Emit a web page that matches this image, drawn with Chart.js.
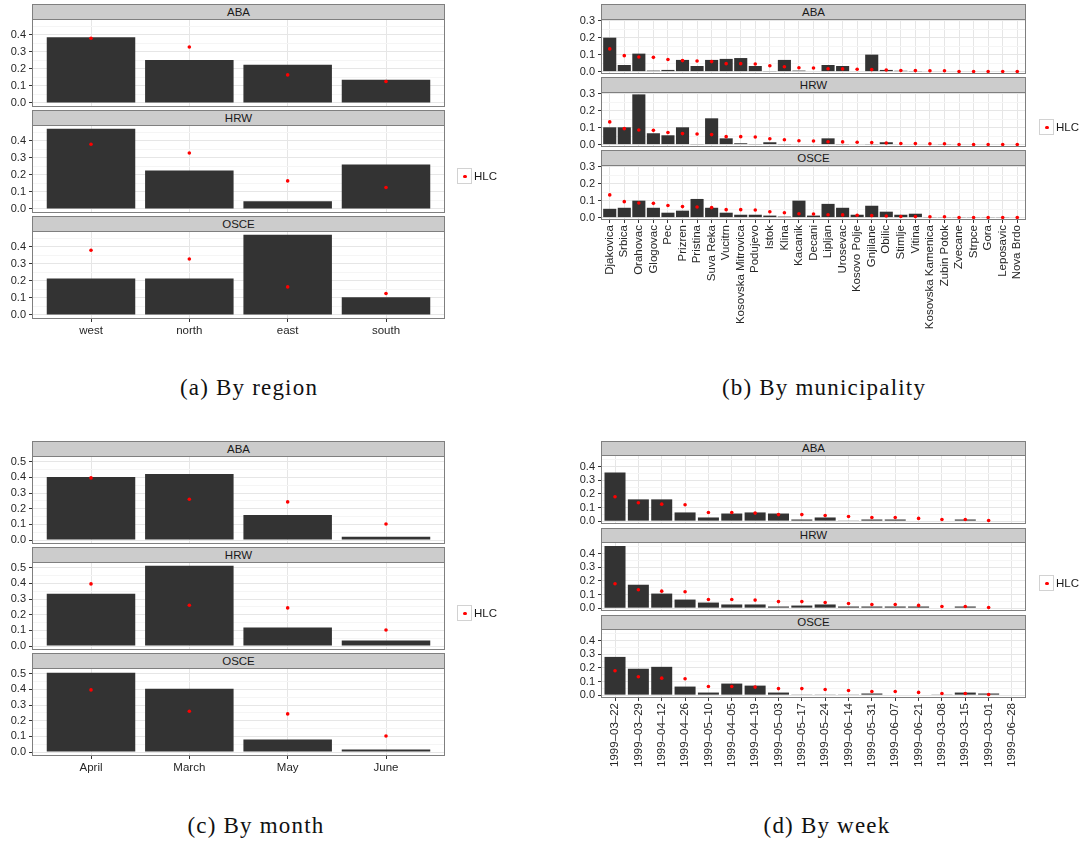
<!DOCTYPE html>
<html>
<head>
<meta charset="utf-8">
<script src="https://cdn.jsdelivr.net/npm/chart.js@4.4.1/dist/chart.umd.min.js"></script>
<style>
  html, body { margin: 0; padding: 0; background: #fff; }
  body { position: relative; width: 1084px; height: 841px; overflow: hidden; font-family: "Liberation Sans", Arial, sans-serif; }
  .strip { position: absolute; box-sizing: border-box; background: #cccccc; border: 1px solid #7f7f7f;
           text-align: center; font-size: 11.5px; color: #1a1a1a; }
  .key { position: absolute; box-sizing: border-box; width: 15px; height: 16px; border: 1px solid #d2d2d2; background: #fff; }
  .key span { position: absolute; left: 5px; top: 5.5px; width: 3.6px; height: 3.6px; border-radius: 50%; background: #ff0000; }
  .ltxt { position: absolute; font-size: 11.5px; color: #1a1a1a; line-height: 16px; }
  .cap { position: absolute; font-family: "Liberation Serif", "DejaVu Serif", serif; font-size: 23px; letter-spacing: 1.2px;
         color: #111; white-space: nowrap; transform: translateX(-50%); line-height: 24px; }
  canvas { position: absolute; }
</style>
</head>
<body>
<script>
// facet rows
const facets = ['ABA', 'HRW', 'OSCE'];

// (a) by region
const regions = ['west', 'north', 'east', 'south'];
const regionHLC = [0.381, 0.329, 0.165, 0.126];
const regionABA = [0.387, 0.253, 0.224, 0.137];
const regionHRW = [0.472, 0.226, 0.045, 0.261];
const regionOSCE = [0.215, 0.215, 0.472, 0.104];
const regionTicks = [0, 0.1, 0.2, 0.3, 0.4];

// (b) by municipality
const municipalities = ['Djakovica', 'Srbica', 'Orahovac', 'Glogovac', 'Pec', 'Prizren', 'Pristina', 'Suva Reka',
  'Vucitrn', 'Kosovska Mitrovica', 'Podujevo', 'Istok', 'Klina', 'Kacanik', 'Decani', 'Lipljan', 'Urosevac',
  'Kosovo Polje', 'Gnjilane', 'Obilic', 'Stimlje', 'Vitina', 'Kosovska Kamenica', 'Zubin Potok', 'Zvecane',
  'Strpce', 'Gora', 'Leposavic', 'Nova Brdo'];
const muniHLC = [0.134, 0.094, 0.086, 0.084, 0.071, 0.065, 0.063, 0.059, 0.047, 0.047, 0.045, 0.035, 0.029, 0.023,
  0.021, 0.017, 0.016, 0.014, 0.012, 0.010, 0.007, 0.006, 0.005, 0.005, 0.001, 0.001, 0.001, 0.001, 0.001];
const muniABA = [0.200, 0.039, 0.106, 0.006, 0.010, 0.069, 0.033, 0.069, 0.075, 0.080, 0.033, 0.002, 0.069, 0.006,
  0, 0.039, 0.033, 0, 0.100, 0.010, 0.005, 0.002, 0, 0, 0.003, 0, 0, 0, 0.003];
const muniHRW = [0.102, 0.102, 0.296, 0.067, 0.055, 0.102, 0.002, 0.155, 0.037, 0.008, 0.002, 0.014, 0.002, 0,
  0, 0.037, 0.002, 0, 0.002, 0.014, 0, 0, 0, 0.002, 0, 0, 0, 0, 0];
const muniOSCE = [0.052, 0.058, 0.100, 0.058, 0.029, 0.041, 0.110, 0.058, 0.029, 0.017, 0.017, 0.012, 0.006, 0.100,
  0.012, 0.081, 0.058, 0.017, 0.070, 0.035, 0.017, 0.023, 0.002, 0.002, 0.002, 0.002, 0.002, 0.002, 0];
const muniTicks = [0, 0.1, 0.2, 0.3];

// (c) by month
const months = ['April', 'March', 'May', 'June'];
const monthHLC = [0.397, 0.261, 0.244, 0.103];
const monthABA = [0.403, 0.422, 0.161, 0.021];
const monthHRW = [0.335, 0.513, 0.119, 0.036];
const monthOSCE = [0.506, 0.405, 0.081, 0.017];
const monthTicks = [0, 0.1, 0.2, 0.3, 0.4, 0.5];

// (d) by week
const weeks = ['1999–03–22', '1999–03–29', '1999–04–12', '1999–04–26', '1999–05–10', '1999–04–05', '1999–04–19',
  '1999–05–03', '1999–05–17', '1999–05–24', '1999–06–14', '1999–05–31', '1999–06–07', '1999–06–21', '1999–03–08',
  '1999–03–15', '1999–03–01', '1999–06–28'];
const weekHLC = [0.179, 0.135, 0.125, 0.120, 0.063, 0.063, 0.059, 0.048, 0.048, 0.041, 0.034, 0.027, 0.027, 0.020,
  0.012, 0.012, 0.005, null];
const weekABA = [0.358, 0.160, 0.160, 0.064, 0.027, 0.056, 0.064, 0.056, 0.012, 0.027, 0.005, 0.012, 0.012, 0, 0,
  0.012, 0, 0];
const weekHRW = [0.456, 0.172, 0.107, 0.063, 0.041, 0.027, 0.027, 0.012, 0.019, 0.027, 0.012, 0.012, 0.012, 0.012,
  0, 0.012, 0, 0];
const weekOSCE = [0.281, 0.194, 0.208, 0.063, 0.019, 0.085, 0.070, 0.019, 0.005, 0.005, 0.005, 0.012, 0, 0, 0.005,
  0.019, 0.012, 0];
const weekTicks = [0, 0.1, 0.2, 0.3, 0.4];

Chart.defaults.font.family = '"Liberation Sans", Arial, sans-serif';
Chart.defaults.font.size = 11;

const YW = 32, PR = 12, PT = 12, PB = 12;

// borde gris del panel, como ggplot
const panelBorder = {
  id: 'panelBorder',
  afterDraw(chart) {
    const { ctx, chartArea: a } = chart;
    ctx.save();
    ctx.strokeStyle = '#7f7f7f';
    ctx.lineWidth = 1;
    ctx.strokeRect(a.left + 0.5, a.top + 0.5, a.right - a.left - 1, a.bottom - a.top - 1);
    ctx.restore();
  }
};

function isMajor(v, major) {
  return major.some(m => Math.abs(m - v) < 1e-9);
}

function drawPanel(p) {
  // ticks menores a medio camino
  const minor = [];
  for (let i = 0; i < p.ticks.length; i++) {
    const m = p.ticks[i] + (p.ticks[1] - p.ticks[0]) / 2;
    if (m < p.yMax) minor.push(m);
  }
  const allTicks = p.ticks.concat(minor).sort((a, b) => a - b);

  facets.forEach((name, k) => {
    const stripTop = p.top + k * (p.stripH + p.plotH + p.gap);
    const plotTop = stripTop + p.stripH;
    const last = k === facets.length - 1;

    const strip = document.createElement('div');
    strip.className = 'strip';
    strip.style.cssText = `left:${p.x0}px;top:${stripTop}px;width:${p.x1 - p.x0}px;height:${p.stripH + 1}px;line-height:${p.stripH - 1}px`;
    strip.textContent = name;
    document.body.appendChild(strip);

    const cv = document.createElement('canvas');
    const w = p.x1 - p.x0 + YW + PR;
    const h = PT + p.plotH + (last ? p.xh : PB);
    cv.width = w;
    cv.height = h;
    cv.style.left = (p.x0 - YW) + 'px';
    cv.style.top = (plotTop - PT) + 'px';
    cv.style.width = w + 'px';
    cv.style.height = h + 'px';
    document.body.appendChild(cv);

    new Chart(cv, {
      type: 'bar',
      data: {
        datasets: [
          {
            type: 'bar',
            data: p.series[k].map((v, i) => ({ x: i, y: v })),
            backgroundColor: '#333333',
            barPercentage: 0.9,
            categoryPercentage: 1,
            order: 2
          },
          {
            type: 'line',
            label: 'HLC',
            data: p.hlc.map((v, i) => ({ x: i, y: v })),
            showLine: false,
            pointRadius: 1.8,
            pointBorderWidth: 0,
            pointBackgroundColor: '#ff0000',
            order: 1
          }
        ]
      },
      options: {
        responsive: false,
        animation: false,
        devicePixelRatio: 1,
        layout: { padding: { top: PT, right: PR, bottom: last ? 0 : PB, left: 0 } },
        plugins: { legend: { display: false }, tooltip: { enabled: false } },
        scales: {
          x: {
            type: 'linear',
            offset: false,
            min: -0.6,
            max: p.cats.length - 0.4,
            afterBuildTicks: s => { s.ticks = p.cats.map((c, i) => ({ value: i })); },
            afterFit: s => { s.height = last ? p.xh : 0; },
            border: { display: false },
            grid: { offset: false, color: '#e6e6e6', drawTicks: last, tickLength: 3, tickColor: '#333333' },
            ticks: {
              display: last,
              autoSkip: false,
              maxRotation: p.rot,
              minRotation: p.rot,
              padding: 2,
              color: '#262626',
              font: { size: p.xfs },
              callback: v => p.cats[v]
            }
          },
          y: {
            min: p.yMin,
            max: p.yMax,
            afterBuildTicks: s => { s.ticks = allTicks.map(v => ({ value: v })); },
            afterFit: s => { s.width = YW; },
            border: { display: false },
            grid: {
              color: ctx => isMajor(ctx.tick.value, p.ticks) ? '#e6e6e6' : '#f5f5f5',
              tickLength: 3,
              tickColor: ctx => isMajor(ctx.tick.value, p.ticks) ? '#333333' : 'rgba(0,0,0,0)'
            },
            ticks: {
              padding: 3,
              color: '#262626',
              autoSkip: false,
              callback: v => isMajor(v, p.ticks) ? v.toFixed(1) : ''
            }
          }
        }
      },
      plugins: [panelBorder]
    });
  });

  // leyenda
  const key = document.createElement('div');
  key.className = 'key';
  key.style.left = p.legend[0] + 'px';
  key.style.top = p.legend[1] + 'px';
  key.appendChild(document.createElement('span'));
  document.body.appendChild(key);
  const lt = document.createElement('div');
  lt.className = 'ltxt';
  lt.style.left = (p.legend[0] + 17) + 'px';
  lt.style.top = p.legend[1] + 'px';
  lt.textContent = 'HLC';
  document.body.appendChild(lt);

  const cap = document.createElement('div');
  cap.className = 'cap';
  cap.style.left = p.caption[1] + 'px';
  cap.style.top = p.caption[2] + 'px';
  cap.textContent = p.caption[0];
  document.body.appendChild(cap);
}

drawPanel({
  cats: regions, hlc: regionHLC, series: [regionABA, regionHRW, regionOSCE], ticks: regionTicks,
  yMin: -0.024, yMax: 0.494, x0: 32, x1: 445, top: 4, stripH: 15, plotH: 88, gap: 3,
  rot: 0, xfs: 11.5, xh: 22, legend: [457, 168], caption: ['(a) By region', 249, 376]
});
drawPanel({
  cats: municipalities, hlc: muniHLC, series: [muniABA, muniHRW, muniOSCE], ticks: muniTicks,
  yMin: -0.014, yMax: 0.31, x0: 601, x1: 1026, top: 4, stripH: 15, plotH: 55, gap: 3,
  rot: 90, xfs: 11.5, xh: 110, legend: [1039, 119], caption: ['(b) By municipality', 824, 376]
});
drawPanel({
  cats: months, hlc: monthHLC, series: [monthABA, monthHRW, monthOSCE], ticks: monthTicks,
  yMin: -0.025, yMax: 0.537, x0: 32, x1: 445, top: 441, stripH: 15, plotH: 88, gap: 3,
  rot: 0, xfs: 11.5, xh: 22, legend: [457, 605], caption: ['(c) By month', 256, 814]
});
drawPanel({
  cats: weeks, hlc: weekHLC, series: [weekABA, weekHRW, weekOSCE], ticks: weekTicks,
  yMin: -0.021, yMax: 0.486, x0: 601, x1: 1026, top: 441, stripH: 14, plotH: 69, gap: 4,
  rot: 90, xfs: 11.5, xh: 80, legend: [1039, 575], caption: ['(d) By week', 827, 814]
});
</script>
</body>
</html>
